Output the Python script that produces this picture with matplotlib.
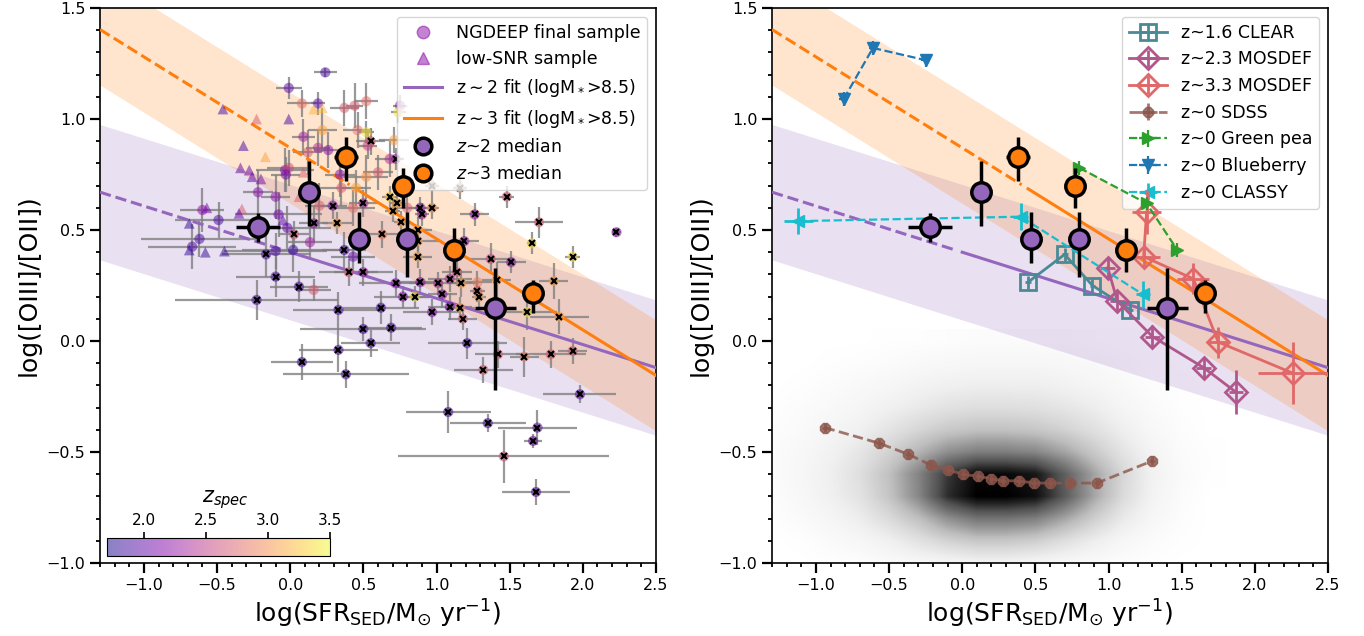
import numpy as np
import matplotlib
matplotlib.use("Agg")
import matplotlib.pyplot as plt
from matplotlib.lines import Line2D
from matplotlib.colors import Normalize

# ---- NGDEEP sample (circles with error bars); flag = 1 -> black x on top
samp_x = [0.24, -0.01, 0.19, 0.08, 0.37, 0.44, 0.52, 0.75, 0.74, 0.09, 0.22, 0.46, 0.52, 0.71, 0.53,
          -0.035, -0.01, -0.03, 0.12, 0.19, 0.26, 0.34, 0.35, 0.45, 0.52, 0.60, 0.68, -0.22, -0.10, 0.20,
          0.43, -0.60, -0.49, -0.08, -0.02, 0.135, -0.62, -0.67, -0.10, 0.02, 0.43, 0.16, 1.28, 0.80,
          0.55, 0.72, 0.29, 0.50, 0.68, 0.73, 0.70, 0.76, 0.32, 0.16, 0.026, -0.165, -0.10, 0.06, -0.23,
          0.33, 0.62, 0.37, 0.40, 0.50, 0.63, 0.97, 1.16, 1.48, 0.89, 0.97, 1.26, 0.90, 1.70, 2.23, 1.65,
          1.93, 0.87, 1.19, 0.87, 0.87, 1.37, 1.51, 1.80, 1.41, 1.28, 1.29, 1.14, 1.09, 1.17, 1.04, 0.89,
          1.01, 0.85, 0.77, 0.97, 1.09, 1.16, 1.18, 1.62, 1.84, 0.72, 0.50, 0.69, 0.55, 0.33, 0.08, 0.38,
          1.21, 1.42, 1.32, 1.60, 1.78, 1.93, 1.98, 1.08, 1.35, 1.69, 1.66, 1.46, 1.68]
samp_y = [1.21, 1.14, 1.07, 1.07, 1.05, 1.06, 1.08, 1.06, 1.03, 0.92, 0.95, 0.95, 0.94, 0.905, 0.88,
          0.77, 0.78, 0.75, 0.85, 0.87, 0.86, 0.75, 0.69, 0.69, 0.74, 0.76, 0.82, 0.67, 0.65, 0.61,
          0.60, 0.59, 0.545, 0.57, 0.51, 0.445, 0.46, 0.425, 0.405, 0.41, 0.38, 0.23, 0.265, 0.60,
          0.90, 0.82, 0.61, 0.62, 0.65, 0.62, 0.585, 0.535, 0.53, 0.53, 0.48, 0.39, 0.29, 0.245, 0.185,
          0.14, 0.15, 0.41, 0.31, 0.31, 0.48, 0.70, 0.69, 0.65, 0.60, 0.60, 0.57, 0.57, 0.535, 0.49, 0.44,
          0.38, 0.50, 0.45, 0.45, 0.38, 0.37, 0.355, 0.27, 0.275, 0.225, 0.20, 0.31, 0.28, 0.26, 0.21, 0.265,
          0.26, 0.20, 0.20, 0.13, 0.155, 0.15, 0.10, 0.13, 0.11, 0.26, 0.054, 0.06, -0.01, -0.04, -0.095, -0.15,
          -0.01, -0.06, -0.13, -0.07, -0.06, -0.045, -0.24, -0.32, -0.37, -0.39, -0.45, -0.52, -0.68]
samp_xerr = [0.08, 0.09, 0.05, 0.10, 0.10, 0.06, 0.08, 0.05, 0.05, 0.08, 0.10, 0.10, 0.05, 0.10, 0.06,
             0.20, 0.15, 0.10, 0.10, 0.08, 0.10, 0.10, 0.15, 0.10, 0.15, 0.10, 0.10, 0.10, 0.10, 0.10,
             0.15, 0.15, 0.30, 0.30, 0.30, 0.15, 0.40, 0.30, 0.35, 0.35, 0.15, 0.12, 0.10, 0.10,
             0.10, 0.05, 0.10, 0.10, 0.05, 0.05, 0.05, 0.05, 0.10, 0.10, 0.10, 0.30, 0.27, 0.20, 0.56,
             0.31, 0.26, 0.15, 0.20, 0.20, 0.15, 0.05, 0.05, 0.05, 0.10, 0.05, 0.10, 0.05, 0.165, 0.03, 0.03,
             0.05, 0.10, 0.10, 0.15, 0.10, 0.15, 0.10, 0.10, 0.10, 0.05, 0.05, 0.10, 0.15, 0.10, 0.10, 0.15,
             0.20, 0.10, 0.20, 0.20, 0.15, 0.10, 0.10, 0.20, 0.20, 0.25, 0.43, 0.21, 0.20, 0.27, 0.21, 0.43,
             0.27, 0.16, 0.20, 0.10, 0.24, 0.10, 0.25, 0.29, 0.26, 0.27, 0.06, 0.72, 0.23]
samp_yerr = [0.02, 0.05, 0.05, 0.06, 0.08, 0.10, 0.08, 0.05, 0.05, 0.08, 0.10, 0.08, 0.05, 0.06, 0.06,
             0.10, 0.08, 0.08, 0.10, 0.08, 0.08, 0.10, 0.08, 0.08, 0.10, 0.08, 0.08, 0.10, 0.10, 0.10,
             0.08, 0.10, 0.08, 0.10, 0.10, 0.08, 0.08, 0.10, 0.08, 0.10, 0.08, 0.05, 0.05, 0.06,
             0.06, 0.05, 0.06, 0.06, 0.05, 0.05, 0.05, 0.05, 0.05, 0.08, 0.06, 0.10, 0.09, 0.07, 0.09,
             0.08, 0.075, 0.08, 0.06, 0.06, 0.06, 0.05, 0.05, 0.05, 0.05, 0.05, 0.05, 0.05, 0.07, 0.02, 0.05,
             0.05, 0.06, 0.06, 0.05, 0.05, 0.07, 0.05, 0.08, 0.08, 0.05, 0.05, 0.06, 0.06, 0.06, 0.06, 0.06,
             0.05, 0.05, 0.05, 0.06, 0.06, 0.05, 0.05, 0.08, 0.08, 0.06, 0.055, 0.06, 0.06, 0.10, 0.08, 0.06,
             0.07, 0.06, 0.06, 0.09, 0.06, 0.06, 0.04, 0.095, 0.04, 0.08, 0.03, 0.12, 0.06]
samp_z = [1.9, 2.0, 2.0, 2.8, 2.7, 2.7, 2.8, 2.2, 3.4, 2.3, 3.1, 2.8, 3.4, 3.1, 2.5,
          2.2, 2.6, 2.1, 2.7, 2.4, 2.2, 2.2, 2.7, 3.1, 3.0, 2.7, 2.4, 2.2, 2.2, 2.7,
          2.8, 2.2, 1.9, 2.1, 2.0, 2.3, 1.9, 1.9, 1.9, 1.8, 2.0, 2.7, 2.9, 2.7,
          2.7, 2.3, 2.2, 2.3, 3.3, 3.1, 3.1, 3.1, 3.1, 2.2, 2.7, 1.9, 1.9, 1.9, 1.9,
          1.9, 1.9, 1.9, 2.7, 2.3, 2.9, 3.0, 3.0, 2.7, 2.2, 3.0, 2.2, 2.3, 2.7, 2.2, 3.4,
          3.4, 3.1, 2.2, 3.1, 3.1, 2.6, 2.2, 3.1, 3.1, 2.7, 3.1, 2.7, 2.4, 3.1, 2.2, 2.2,
          2.4, 3.4, 2.2, 2.2, 2.2, 3.1, 2.7, 3.4, 3.1, 2.2, 1.9, 1.9, 1.9, 1.9, 1.9, 1.9,
          1.9, 2.7, 2.7, 2.9, 2.7, 2.7, 2.0, 1.9, 1.9, 2.0, 2.1, 2.6, 2.0]
samp_flag = [0] * 44 + [1] * 76

# ---- low-SNR sample (triangles)
low_x = [-0.46, -0.23, -0.01, 0.16, 0.22, -0.32, -0.17, -0.34, -0.28, -0.26, -0.20, 0.09, 0.06,
         -0.57, -0.33, -0.35, -0.05, -0.69, -0.69, -0.58, -0.45]
low_y = [1.045, 1.00, 1.00, 1.045, 1.05, 0.88, 0.83, 0.78, 0.77, 0.74, 0.73, 0.76, 0.65,
         0.60, 0.595, 0.575, 0.545, 0.53, 0.41, 0.40, 0.405]
low_z = [1.9, 2.7, 1.9, 3.2, 3.2, 1.9, 3.1, 2.0, 2.0, 2.0, 2.1, 2.7, 2.7,
         2.1, 2.7, 2.0, 2.0, 1.8, 1.8, 1.8, 1.8]

# ---- medians
med2_x = [-0.22, 0.13, 0.47, 0.80, 1.40]
med2_y = [0.515, 0.67, 0.46, 0.46, 0.15]
med2_xerr = [0.15, 0.06, 0.07, 0.06, 0.14]
med2_yerr_lo = [0.07, 0.15, 0.11, 0.17, 0.37]
med2_yerr_hi = [0.06, 0.14, 0.12, 0.12, 0.18]
med3_x = [0.38, 0.77, 1.12, 1.66]
med3_y = [0.83, 0.70, 0.41, 0.215]
med3_xerr = [0.08, 0.05, 0.07, 0.06]
med3_yerr_lo = [0.11, 0.10, 0.10, 0.09]
med3_yerr_hi = [0.09, 0.08, 0.10, 0.06]

# ---- fits: y = a + b * x, band half-width, start of solid part
fit2 = dict(a=0.40, b=-0.208, w=0.305, solid_from=0.0)
fit3 = dict(a=0.87, b=-0.41, w=0.25, solid_from=0.45)

# ---- comparison samples (right panel)
clear_x = [0.45, 0.70, 0.89, 1.15]
clear_y = [0.265, 0.39, 0.25, 0.14]
mos2_x = [0.995, 1.06, 1.30, 1.65, 1.87]
mos2_y = [0.33, 0.18, 0.02, -0.12, -0.23]
mos2_yerr = [0.05, 0.05, 0.05, 0.05, 0.10]
mos3_x = [1.26, 1.24, 1.58, 1.75, 2.26]
mos3_y = [0.58, 0.38, 0.28, -0.005, -0.145]
mos3_xerr = [0.10, 0.11, 0.11, 0.07, 0.24]
mos3_yerr = [0.10, 0.04, 0.07, 0.07, 0.14]
sdss_x = [-0.94, -0.57, -0.37, -0.21, -0.10, 0.005, 0.11, 0.20, 0.28, 0.39, 0.49, 0.60, 0.74, 0.92, 1.30]
sdss_y = [-0.39, -0.46, -0.51, -0.56, -0.58, -0.60, -0.61, -0.62, -0.63, -0.63, -0.64, -0.64, -0.64, -0.64, -0.54]
gp_x = [0.80, 1.26, 1.47]
gp_y = [0.78, 0.62, 0.41]
bb_x = [-0.81, -0.61, -0.25]
bb_y = [1.09, 1.32, 1.265]
classy_x = [-1.12, 0.40, 1.235]
classy_y = [0.54, 0.56, 0.21]
classy_xerr = [0.10, 0.05, 0.05]
classy_yerr = [0.06, 0.06, 0.06]

# ---- SDSS density (rows: y = -1.0 ... 0.0 step 0.1, cols: x = -1.3 ... 1.7 step 0.2)
sdss_density = np.array([
    [0, 0, .01, .02, .04, .06, .08, .10, .10, .08, .06, .04, .02, .01, 0, 0],
    [0, .01, .04, .07, .12, .20, .28, .33, .33, .30, .22, .14, .07, .03, .01, 0],
    [.01, .04, .08, .14, .24, .36, .52, .62, .62, .58, .45, .30, .16, .07, .02, 0],
    [.02, .06, .12, .20, .34, .55, .85, 1.0, 1.0, .95, .72, .45, .24, .10, .03, 0],
    [.03, .07, .13, .22, .36, .56, .82, .97, .97, .92, .70, .46, .26, .11, .04, .01],
    [.03, .06, .11, .18, .28, .40, .52, .58, .58, .55, .45, .32, .19, .09, .03, .01],
    [.02, .04, .08, .12, .19, .26, .32, .35, .35, .33, .28, .21, .13, .06, .02, 0],
    [.01, .03, .05, .08, .12, .16, .20, .22, .22, .21, .18, .14, .08, .04, .01, 0],
    [0, .01, .03, .05, .07, .10, .12, .13, .13, .13, .11, .08, .05, .02, .01, 0],
    [0, 0, .01, .02, .03, .05, .06, .07, .07, .07, .06, .05, .03, .01, 0, 0],
    [0, 0, 0, 0, .01, .01, .02, .03, .03, .03, .03, .02, .01, 0, 0, 0],
])

C2 = 'tab:purple'
C3 = 'tab:orange'
XLABEL = r'log(SFR$_{\rm SED}$/M$_{\odot}$ yr$^{-1}$)'
YLABEL = 'log([OIII]/[OII])'


def style_axis(ax):
    ax.set_xlim(-1.3, 2.5)
    ax.set_ylim(-1.0, 1.5)
    ax.set_xticks(np.arange(-1.0, 2.51, 0.5))
    ax.set_yticks(np.arange(-1.0, 1.51, 0.5))
    ax.xaxis.set_minor_locator(matplotlib.ticker.MultipleLocator(0.1))
    ax.yaxis.set_minor_locator(matplotlib.ticker.MultipleLocator(0.1))
    ax.tick_params(which='major', length=7, width=1.6, labelsize=11.5)
    ax.tick_params(which='minor', length=3, width=1.3)
    for s in ax.spines.values():
        s.set_linewidth(1.2)
    ax.set_xlabel(XLABEL, fontsize=18)
    ax.set_ylabel(YLABEL, fontsize=18)


def draw_fits(ax):
    xx = np.linspace(-1.3, 2.5, 50)
    for fit, c in [(fit2, C2), (fit3, C3)]:
        yy = fit['a'] + fit['b'] * xx
        ax.fill_between(xx, yy - fit['w'], yy + fit['w'], color=c, alpha=0.2, lw=0, zorder=1)
        dash = xx <= fit['solid_from']
        ax.plot(xx[dash], yy[dash], '--', color=c, lw=2.2, zorder=3)
        xs = np.linspace(fit['solid_from'], 2.5, 20)
        ax.plot(xs, fit['a'] + fit['b'] * xs, '-', color=c, lw=2.2, zorder=3)


def draw_medians(ax):
    ax.errorbar(med2_x, med2_y, xerr=med2_xerr, yerr=[med2_yerr_lo, med2_yerr_hi], fmt='o',
                ms=14, mfc=C2, mec='k', mew=2.5, ecolor='k', elinewidth=2.5, zorder=8)
    ax.errorbar(med3_x, med3_y, xerr=med3_xerr, yerr=[med3_yerr_lo, med3_yerr_hi], fmt='o',
                ms=14, mfc=C3, mec='k', mew=2.5, ecolor='k', elinewidth=2.5, zorder=8)


fig = plt.figure(figsize=(13.64, 6.36), dpi=100)
ax1 = fig.add_axes([100 / 1364, 1 - 563 / 636, 556 / 1364, 555 / 636])
ax2 = fig.add_axes([772 / 1364, 1 - 563 / 636, 556 / 1364, 555 / 636])

# ---------------- left panel
cmap = plt.get_cmap('plasma')
norm = Normalize(vmin=1.7, vmax=3.5)
draw_fits(ax1)
ax1.errorbar(samp_x, samp_y, xerr=samp_xerr, yerr=samp_yerr, fmt='none', ecolor='gray',
             elinewidth=1.6, alpha=0.8, zorder=2)
sc = ax1.scatter(samp_x, samp_y, c=samp_z, cmap=cmap, norm=norm, s=55, alpha=0.5, lw=0, zorder=4)
ax1.scatter(low_x, low_y, c=low_z, cmap=cmap, norm=norm, s=60, marker='^', alpha=0.5, lw=0, zorder=4)
fx = [x for x, f in zip(samp_x, samp_flag) if f]
fy = [y for y, f in zip(samp_y, samp_flag) if f]
ax1.plot(fx, fy, 'x', color='k', ms=4.5, mew=1.6, zorder=5)
draw_medians(ax1)
style_axis(ax1)

leg_col = cmap(norm(2.2))
handles = [
    Line2D([], [], ls='none', marker='o', ms=9, color=leg_col, alpha=0.5),
    Line2D([], [], ls='none', marker='^', ms=9, color=leg_col, alpha=0.5),
    Line2D([], [], color=C2, lw=2.2),
    Line2D([], [], color=C3, lw=2.2),
    Line2D([], [], ls='none', marker='o', ms=12, mfc=C2, mec='k', mew=2.5),
    Line2D([], [], ls='none', marker='o', ms=12, mfc=C3, mec='k', mew=2.5),
]
labels = ['NGDEEP final sample', 'low-SNR sample', r'z$\sim$2 fit (logM$_*$>8.5)',
          r'z$\sim$3 fit (logM$_*$>8.5)', '$z$~2 median', '$z$~3 median']
ax1.legend(handles, labels, loc='upper right', fontsize=12.5, handlelength=2.2)

cax = ax1.inset_axes([0.013, 0.013, 0.40, 0.032])
cb = fig.colorbar(sc, cax=cax, orientation='horizontal')
cb.set_ticks([2.0, 2.5, 3.0, 3.5])
cax.xaxis.set_ticks_position('top')
cax.xaxis.set_label_position('top')
cax.tick_params(labelsize=11, length=4, width=1.2)
cb.set_label(r'$z_{spec}$', fontsize=15, labelpad=7)
cax.xaxis.label.set_position((0.53, 1))

# ---------------- right panel
ax2.imshow(sdss_density, extent=[-1.4, 1.8, -1.05, 0.05], origin='lower', cmap='Greys',
           vmin=0, vmax=1, interpolation='bilinear', aspect='auto', zorder=0)
draw_fits(ax2)
draw_medians(ax2)
ax2.errorbar(clear_x, clear_y, xerr=0.02, yerr=0.03, fmt='s-', ms=11, mfc='none', mew=2,
             color='#4a8a96', lw=2, zorder=6, label='z~1.6 CLEAR')
ax2.errorbar(mos2_x, mos2_y, xerr=0.05, yerr=mos2_yerr, fmt='D-', ms=11, mfc='none', mew=2,
             color='#b0588c', lw=2, zorder=6, label='z~2.3 MOSDEF')
ax2.errorbar(mos3_x, mos3_y, xerr=mos3_xerr, yerr=mos3_yerr, fmt='D-', ms=11, mfc='none', mew=2,
             color='#e06868', lw=2, zorder=6, label='z~3.3 MOSDEF')
ax2.errorbar(sdss_x, sdss_y, xerr=0.02, yerr=0.02, fmt='8--', ms=8.5, color='tab:brown', alpha=0.8,
             lw=2, zorder=5, label='z~0 SDSS')
ax2.errorbar(gp_x, gp_y, xerr=0.03, yerr=0.03, fmt='>--', ms=9, color='tab:green', lw=1.6,
             zorder=6, label='z~0 Green pea')
ax2.errorbar(bb_x, bb_y, xerr=0.03, yerr=0.03, fmt='v--', ms=9, color='tab:blue', lw=1.6,
             zorder=6, label='z~0 Blueberry')
ax2.errorbar(classy_x, classy_y, xerr=classy_xerr, yerr=classy_yerr, fmt='<--', ms=9,
             color='tab:cyan', lw=1.6, elinewidth=2, zorder=6, label='z~0 CLASSY')
style_axis(ax2)
ax2.legend(loc='upper right', fontsize=12.5, handlelength=2.2)

fig.savefig('out.png', dpi=100)
